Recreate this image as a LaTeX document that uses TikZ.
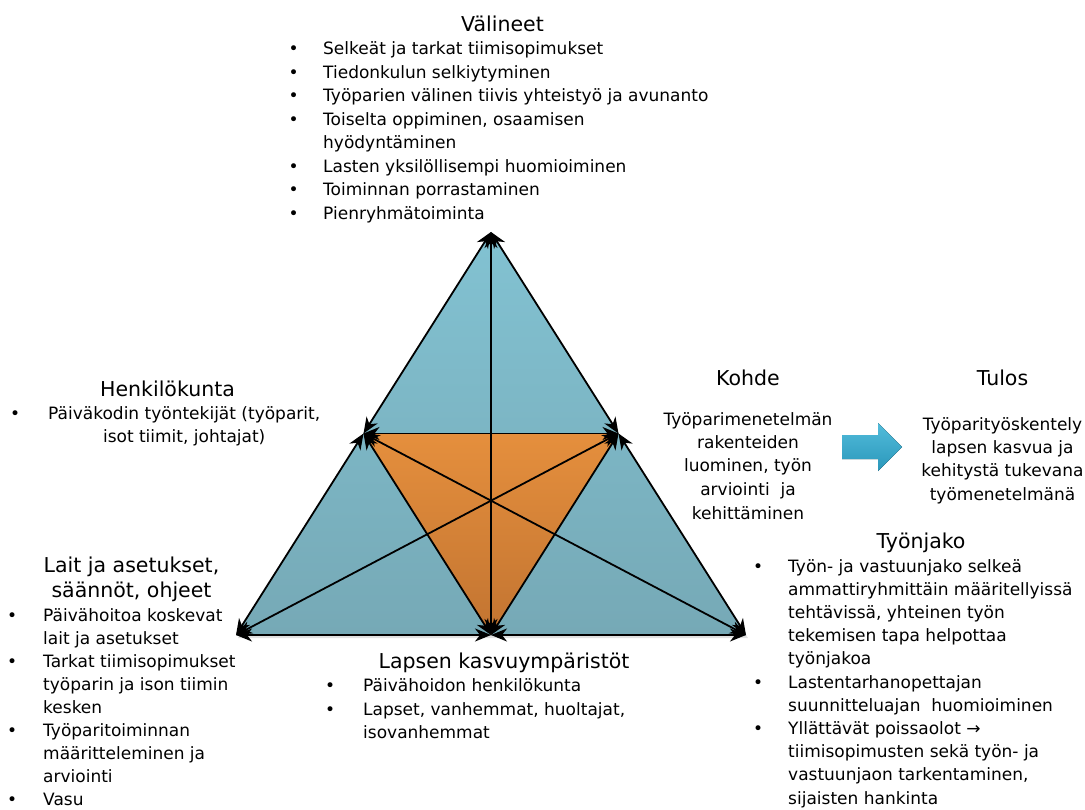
\documentclass[tikz,border=0pt]{standalone}
\usepackage{fontspec}
\setmainfont{DejaVu Sans}
\usetikzlibrary{arrows.meta,calc,positioning}

\definecolor{sininenyla}{HTML}{82C2D2}
\definecolor{sininenala}{HTML}{76A9B6}
\definecolor{oranssiyla}{HTML}{E58F3D}
\definecolor{oranssiala}{HTML}{C27431}
\definecolor{nuoliyla}{HTML}{52BCDB}
\definecolor{nuoliala}{HTML}{2A97BA}

\newcommand{\pallo}{\textbullet}

\tikzset{
  otsikko/.style={font=\fontsize{20.5}{25}\selectfont, inner sep=0pt, anchor=base},
  teksti/.style={font=\fontsize{17}{23.5}\selectfont, inner sep=0pt, anchor=base west},
  keskella/.style={teksti, anchor=base},
  nuoli/.style={>={Stealth[length=16pt,width=13pt,inset=5pt]}, <->, line width=1.8pt}
}

\begin{document}
\begin{tikzpicture}[x=1pt,y=-1pt]
  \useasboundingbox (0,0) rectangle (1085,810);

  \coordinate (A) at (491,232);
  \coordinate (VA) at (236,635);
  \coordinate (OA) at (746,635);
  \coordinate (VK) at ($(A)!0.5!(VA)$);
  \coordinate (OK) at ($(A)!0.5!(OA)$);
  \coordinate (AK) at ($(VA)!0.5!(OA)$);

  \fill[black!12] ($(A)+(2,3)$) -- ($(VA)+(2,3)$) -- ($(OA)+(2,3)$) -- cycle;
  \fill[top color=sininenyla, bottom color=sininenala] (A) -- (VA) -- (OA) -- cycle;
  \fill[top color=oranssiyla, bottom color=oranssiala] (VK) -- (OK) -- (AK) -- cycle;
  \foreach \a/\b in {A/VK, VK/VA, A/OK, OK/OA, VA/AK, AK/OA, VK/OK, VK/AK, OK/AK, A/AK, VA/OK, OA/VK}
    \draw[nuoli] (\a) -- (\b);

  \fill[top color=nuoliyla, bottom color=nuoliala]
    (842,435) -- (878,435) -- (878,423) -- (902,447) -- (878,471) -- (878,459) -- (842,459) -- cycle;

  \node[otsikko] (valineet) at (502.5,31.5) {Välineet};
  \node[teksti] (valineetlista) at (288.5,55) {\begin{tabular}[t]{@{}p{34.5pt}@{}l@{}}
    \pallo & Selkeät ja tarkat tiimisopimukset\\
    \pallo & Tiedonkulun selkiytyminen\\
    \pallo & Työparien välinen tiivis yhteistyö ja avunanto\\
    \pallo & Toiselta oppiminen, osaamisen\\
           & hyödyntäminen\\
    \pallo & Lasten yksilöllisempi huomioiminen\\
    \pallo & Toiminnan porrastaminen\\
    \pallo & Pienryhmätoiminta
  \end{tabular}};

  \node[otsikko] (henkilokunta) at (167.5,396) {Henkilökunta};
  \node[teksti] (henkilokuntalista) at (10,419) {\begin{tabular}[t]{@{}p{38pt}@{}c@{}}
    \pallo & Päiväkodin työntekijät (työparit,\\
           & isot tiimit, johtajat)
  \end{tabular}};

  \node[otsikko] (lait) at (131.5,572) {\begin{tabular}[t]{@{}c@{}}Lait ja asetukset,\\ säännöt, ohjeet\end{tabular}};
  \node[teksti, font=\fontsize{17}{23}\selectfont] (laitlista) at (7,621) {\begin{tabular}[t]{@{}p{36pt}@{}l@{}}
    \pallo & Päivähoitoa koskevat\\
           & lait ja asetukset\\
    \pallo & Tarkat tiimisopimukset\\
           & työparin ja ison tiimin\\
           & kesken\\
    \pallo & Työparitoiminnan\\
           & määritteleminen ja\\
           & arviointi\\
    \pallo & Vasu
  \end{tabular}};

  \node[otsikko] (lapsen) at (504,668.5) {Lapsen kasvuympäristöt};
  \node[teksti] (lapsenlista) at (325,691.5) {\begin{tabular}[t]{@{}p{38pt}@{}l@{}}
    \pallo & Päivähoidon henkilökunta\\
    \pallo & Lapset, vanhemmat, huoltajat,\\
           & isovanhemmat
  \end{tabular}};

  \node[otsikko] (kohde) at (748,386) {Kohde};
  \node[keskella] (kohdeteksti) at (748,425) {\begin{tabular}[t]{@{}c@{}}
    Työparimenetelmän\\ rakenteiden\\ luominen, työn\\ arviointi\ \ ja\\ kehittäminen
  \end{tabular}};

  \node[otsikko] (tulos) at (1002.5,386) {Tulos};
  \node[keskella] (tulosteksti) at (1002.5,430) {\begin{tabular}[t]{@{}c@{}}
    Työparityöskentely\\ lapsen kasvua ja\\ kehitystä tukevana\\ työmenetelmänä
  \end{tabular}};

  \node[otsikko] (tyonjako) at (921,548) {Työnjako};
  \node[teksti, font=\fontsize{17}{23.2}\selectfont] (tyonjakolista) at (753,572) {\begin{tabular}[t]{@{}p{35pt}@{}l@{}}
    \pallo & Työn- ja vastuunjako selkeä\\
           & ammattiryhmittäin määritellyissä\\
           & tehtävissä, yhteinen työn\\
           & tekemisen tapa helpottaa\\
           & työnjakoa\\
    \pallo & Lastentarhanopettajan\\
           & suunnitteluajan\ \ huomioiminen\\
    \pallo & Yllättävät poissaolot →\\
           & tiimisopimusten sekä työn- ja\\
           & vastuunjaon tarkentaminen,\\
           & sijaisten hankinta
  \end{tabular}};
\end{tikzpicture}
\end{document}
